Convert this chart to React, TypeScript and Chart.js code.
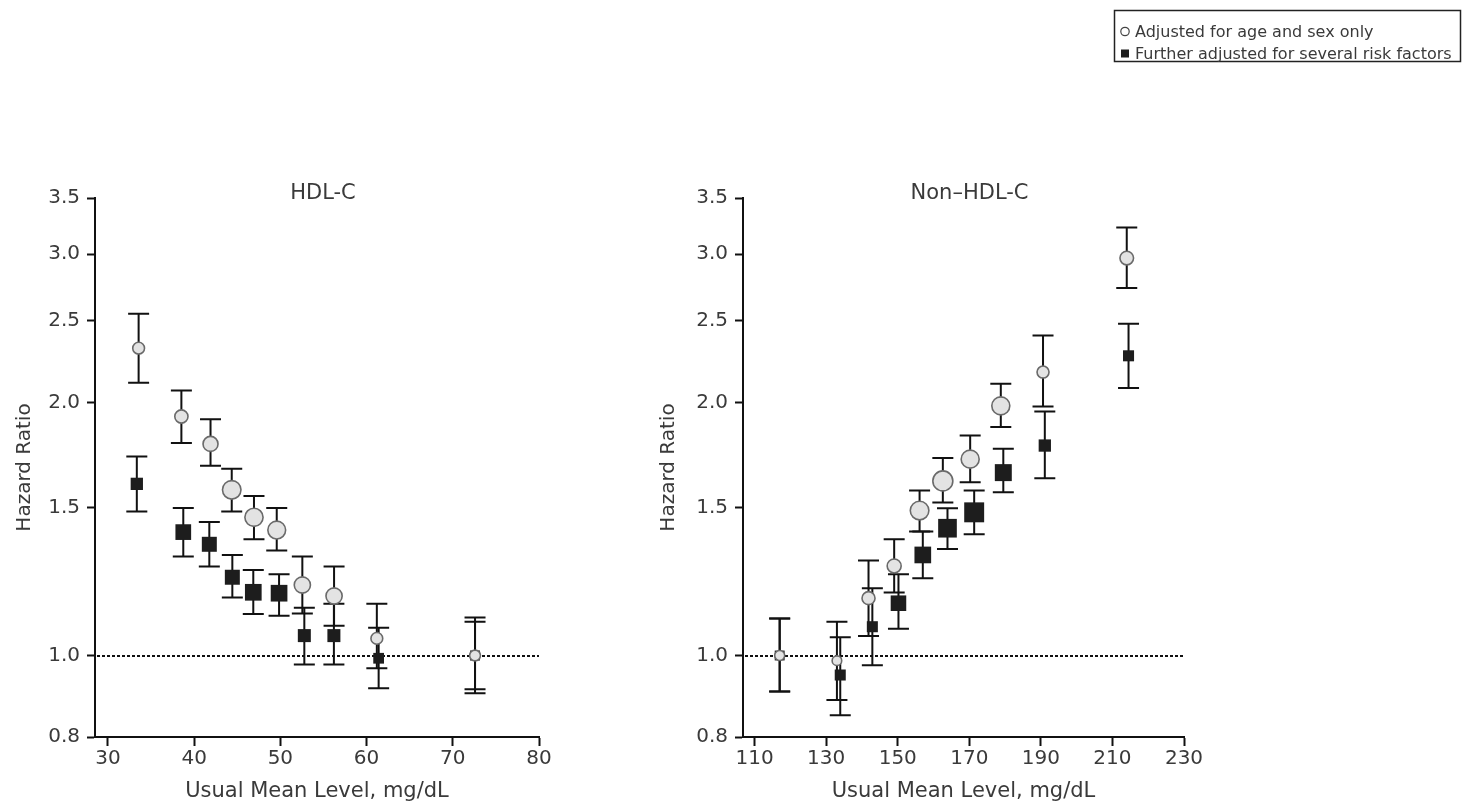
import React, { useEffect, useRef } from 'react';
import { Chart, registerables } from 'chart.js';

Chart.register(...registerables);

// ---- shared axis values ----
const hazardTicks = [0.8, 1.0, 1.5, 2.0, 2.5, 3.0, 3.5];
const hdlTicks = [30, 40, 50, 60, 70, 80];
const nonHdlTicks = [110, 130, 150, 170, 190, 210, 230];

const seriesLabels = ['Adjusted for age and sex only', 'Further adjusted for several risk factors'];

// ---- HDL-C: adjusted for age and sex only ----
const hdlAgeLevel = [33.56, 38.52, 41.9, 44.36, 46.94, 49.58, 52.55, 56.23, 61.19, 72.58];
const hdlAgeHR = [2.32, 1.924, 1.785, 1.574, 1.46, 1.41, 1.213, 1.177, 1.048, 1.0];
const hdlAgeLow = [2.11, 1.789, 1.681, 1.483, 1.375, 1.333, 1.122, 1.085, 0.966, 0.902];
const hdlAgeHigh = [2.55, 2.066, 1.91, 1.668, 1.548, 1.498, 1.311, 1.276, 1.152, 1.11];

// ---- HDL-C: further adjusted ----
const hdlAdjLevel = [33.35, 38.74, 41.76, 44.43, 46.86, 49.85, 52.78, 56.21, 61.4, 72.58];
const hdlAdjHR = [1.6, 1.402, 1.356, 1.239, 1.189, 1.186, 1.056, 1.056, 0.9925, 1.0];
const hdlAdjLow = [1.483, 1.311, 1.276, 1.172, 1.12, 1.115, 0.976, 0.976, 0.914, 0.912];
const hdlAdjHigh = [1.724, 1.498, 1.441, 1.317, 1.264, 1.249, 1.14, 1.152, 1.079, 1.097];

// ---- Non-HDL-C: adjusted for age and sex only ----
const nonAgeLevel = [117.0, 133.0, 141.83, 149.0, 156.1, 162.6, 170.24, 178.8, 190.6, 214.0];
const nonAgeHR = [1.0, 0.986, 1.17, 1.278, 1.487, 1.613, 1.712, 1.981, 2.173, 2.969];
const nonAgeLow = [0.906, 0.885, 1.055, 1.188, 1.404, 1.52, 1.607, 1.869, 1.977, 2.735];
const nonAgeHigh = [1.107, 1.097, 1.297, 1.375, 1.571, 1.717, 1.826, 2.104, 2.402, 3.229];

// ---- Non-HDL-C: further adjusted ----
const nonAdjLevel = [117.0, 133.93, 142.9, 150.2, 157.0, 163.9, 171.36, 179.5, 191.1, 214.5];
const nonAdjHR = [1.0, 0.948, 1.082, 1.154, 1.317, 1.417, 1.48, 1.65, 1.777, 2.272];
const nonAdjLow = [0.906, 0.849, 0.974, 1.076, 1.236, 1.339, 1.394, 1.564, 1.625, 2.08];
const nonAdjHigh = [1.107, 1.051, 1.202, 1.249, 1.404, 1.497, 1.571, 1.761, 1.95, 2.48];

// marker radii (marker area reflects the precision of each group)
const hdlAgeRadius = [5.9, 6.6, 7.5, 9.25, 9.1, 8.9, 8.1, 8.1, 5.9, 5.4];
const hdlAdjRadius = [8.7, 11.1, 10.6, 10.6, 11.8, 11.8, 9.2, 9.2, 7.6, 7.1];
const nonAgeRadius = [5.0, 4.8, 6.5, 7.0, 9.3, 10.0, 9.0, 9.0, 6.0, 6.8];
const nonAdjRadius = [7.0, 7.8, 7.8, 11.0, 11.8, 13.2, 14.1, 12.0, 8.7, 7.8];

const FONT = "'DejaVu Sans', 'Liberation Sans', sans-serif";
const INK = '#111111';
const TEXT = '#3a3a3a';
const CAP = 10.5;

Chart.defaults.font.family = FONT;

const referenceAndErrorBars = {
  id: 'referenceAndErrorBars',
  beforeDatasetsDraw(chart: any) {
    const { ctx, chartArea, scales } = chart;
    const x = scales.x;
    const y = scales.y;
    ctx.save();
    // dotted line at HR = 1.0
    const y1 = Math.round(y.getPixelForValue(1.0));
    ctx.strokeStyle = INK;
    ctx.lineWidth = 2;
    ctx.setLineDash([3, 2]);
    ctx.beginPath();
    ctx.moveTo(chartArea.left + 2, y1);
    ctx.lineTo(chartArea.right, y1);
    ctx.stroke();
    ctx.setLineDash([]);
    // 95% CI whiskers
    const order = [1, 0];
    order.forEach((di) => {
      const ds = chart.data.datasets[di];
      ds.data.forEach((p: any, i: number) => {
        const px = x.getPixelForValue(p.x);
        const yl = y.getPixelForValue(ds.lower[i]);
        const yh = y.getPixelForValue(ds.upper[i]);
        ctx.beginPath();
        ctx.moveTo(px, yh);
        ctx.lineTo(px, yl);
        ctx.moveTo(px - CAP, yh);
        ctx.lineTo(px + CAP, yh);
        ctx.moveTo(px - CAP, yl);
        ctx.lineTo(px + CAP, yl);
        ctx.stroke();
      });
    });
    ctx.restore();
  },
};

const panelTitle = {
  id: 'panelTitle',
  afterDraw(chart: any, _args: any, opts: any) {
    const { ctx, chartArea } = chart;
    ctx.save();
    ctx.font = `21px ${FONT}`;
    ctx.fillStyle = TEXT;
    ctx.textAlign = 'center';
    ctx.textBaseline = 'alphabetic';
    ctx.fillText(opts.text, (chartArea.left + chartArea.right) / 2 + 6, 199);
    ctx.restore();
  },
};

const boxedLegend = {
  id: 'boxedLegend',
  afterDraw(chart: any, _args: any, opts: any) {
    if (!opts || !opts.show) return;
    const { ctx } = chart;
    const left = opts.left;
    ctx.save();
    ctx.strokeStyle = '#222';
    ctx.lineWidth = 1.5;
    ctx.strokeRect(left + 0.5, 10.5, 346, 51);
    // open circle
    ctx.beginPath();
    ctx.arc(left + 11, 31.5, 4.2, 0, Math.PI * 2);
    ctx.lineWidth = 1.2;
    ctx.strokeStyle = '#444';
    ctx.stroke();
    // filled square
    ctx.fillStyle = '#1d1d1d';
    ctx.fillRect(left + 7, 49.5, 8, 8);
    ctx.font = `16px ${FONT}`;
    ctx.fillStyle = TEXT;
    ctx.textBaseline = 'alphabetic';
    ctx.textAlign = 'left';
    ctx.fillText(chart.data.datasets[0].label, left + 21, 37);
    ctx.fillText(chart.data.datasets[1].label, left + 21, 58.5);
    ctx.restore();
  },
};

type PanelSpec = {
  title: string;
  ageLevel: number[];
  ageHR: number[];
  ageLow: number[];
  ageHigh: number[];
  ageRadius: number[];
  adjLevel: number[];
  adjHR: number[];
  adjLow: number[];
  adjHigh: number[];
  adjRadius: number[];
  xMin: number;
  xMax: number;
  xTicks: number[];
  padLeft: number;
  padRight: number;
  yWidth: number;
  legendLeft?: number;
};

function buildChart(canvas: HTMLCanvasElement, p: PanelSpec) {
  const gridOpts = {
    display: true,
    drawOnChartArea: false,
    drawTicks: true,
    tickWidth: 2,
    tickColor: INK,
  };
  const borderOpts = { display: true, color: INK, width: 2 };
  return new Chart(canvas, {
    type: 'scatter',
    data: {
      datasets: [
        {
          label: seriesLabels[0],
          data: p.ageLevel.map((x, i) => ({ x, y: p.ageHR[i] })),
          lower: p.ageLow,
          upper: p.ageHigh,
          pointStyle: 'circle',
          pointRadius: p.ageRadius,
          pointHoverRadius: p.ageRadius,
          pointBackgroundColor: '#e3e3e3',
          pointBorderColor: '#6a6a6a',
          pointBorderWidth: 1.6,
          showLine: false,
        } as any,
        {
          label: seriesLabels[1],
          data: p.adjLevel.map((x, i) => ({ x, y: p.adjHR[i] })),
          lower: p.adjLow,
          upper: p.adjHigh,
          pointStyle: 'rect',
          pointRadius: p.adjRadius,
          pointHoverRadius: p.adjRadius,
          pointBackgroundColor: '#1d1d1d',
          pointBorderColor: '#1d1d1d',
          pointBorderWidth: 0,
          showLine: false,
        } as any,
      ],
    },
    options: {
      animation: false,
      responsive: false,
      devicePixelRatio: 1,
      events: [],
      layout: { padding: { left: p.padLeft, top: 198, right: p.padRight, bottom: 0 } },
      scales: {
        x: {
          type: 'linear',
          bounds: 'data',
          min: p.xMin,
          max: p.xMax,
          afterFit: (s: any) => {
            s.height = 68;
          },
          afterBuildTicks: (s: any) => {
            s.ticks = p.xTicks.map((v) => ({ value: v }));
          },
          ticks: {
            font: { family: FONT, size: 20 },
            color: TEXT,
            padding: 1,
            maxRotation: 0,
            autoSkip: false,
            callback: (v: any) => String(v),
          },
          grid: { ...gridOpts, tickLength: 9 },
          border: borderOpts,
          title: {
            display: true,
            text: 'Usual Mean Level, mg/dL',
            font: { family: FONT, size: 21 },
            color: TEXT,
            padding: { top: 0, bottom: 1 },
          },
        },
        y: {
          type: 'logarithmic',
          min: 0.8,
          max: 3.5,
          afterFit: (s: any) => {
            s.width = p.yWidth;
          },
          afterBuildTicks: (s: any) => {
            s.ticks = hazardTicks.map((v) => ({ value: v }));
          },
          ticks: {
            font: { family: FONT, size: 20 },
            color: TEXT,
            padding: 7,
            autoSkip: false,
            callback: (v: any) => Number(v).toFixed(1),
          },
          grid: { ...gridOpts, tickLength: 8 },
          border: borderOpts,
          title: {
            display: true,
            text: 'Hazard Ratio',
            font: { family: FONT, size: 20 },
            color: TEXT,
            padding: { top: 13, bottom: 0 },
          },
        },
      },
      plugins: {
        legend: { display: false },
        tooltip: { enabled: false },
        panelTitle: { text: p.title },
        boxedLegend: { show: p.legendLeft !== undefined, left: p.legendLeft ?? 0 },
      } as any,
    },
    plugins: [referenceAndErrorBars, panelTitle, boxedLegend],
  } as any);
}

const hdlPanel: PanelSpec = {
  title: 'HDL-C',
  ageLevel: hdlAgeLevel,
  ageHR: hdlAgeHR,
  ageLow: hdlAgeLow,
  ageHigh: hdlAgeHigh,
  ageRadius: hdlAgeRadius,
  adjLevel: hdlAdjLevel,
  adjHR: hdlAdjHR,
  adjLow: hdlAdjLow,
  adjHigh: hdlAdjHigh,
  adjRadius: hdlAdjRadius,
  xMin: 28.5,
  xMax: 80,
  xTicks: hdlTicks,
  padLeft: 0,
  padRight: 81,
  yWidth: 95,
};

const nonHdlPanel: PanelSpec = {
  title: 'Non–HDL-C',
  ageLevel: nonAgeLevel,
  ageHR: nonAgeHR,
  ageLow: nonAgeLow,
  ageHigh: nonAgeHigh,
  ageRadius: nonAgeRadius,
  adjLevel: nonAdjLevel,
  adjHR: nonAdjHR,
  adjLow: nonAdjLow,
  adjHigh: nonAdjHigh,
  adjRadius: nonAdjRadius,
  xMin: 106.75,
  xMax: 230,
  xTicks: nonHdlTicks,
  padLeft: 24,
  padRight: 282,
  yWidth: 99,
  legendLeft: 494,
};

function PanelCanvas({ spec, left, width }: { spec: PanelSpec; left: number; width: number }) {
  const ref = useRef<HTMLCanvasElement | null>(null);
  useEffect(() => {
    if (!ref.current) return;
    const chart = buildChart(ref.current, spec);
    return () => chart.destroy();
  }, [spec]);
  return (
    <canvas
      ref={ref}
      width={width}
      height={805}
      style={{ position: 'absolute', left, top: 0, width, height: 805, display: 'block' }}
    />
  );
}

export default function App() {
  return (
    <div
      style={{
        position: 'fixed',
        left: 0,
        top: 0,
        width: 1466,
        height: 805,
        background: '#ffffff',
        overflow: 'hidden',
      }}
    >
      <PanelCanvas spec={hdlPanel} left={0} width={620} />
      <PanelCanvas spec={nonHdlPanel} left={620} width={846} />
    </div>
  );
}
